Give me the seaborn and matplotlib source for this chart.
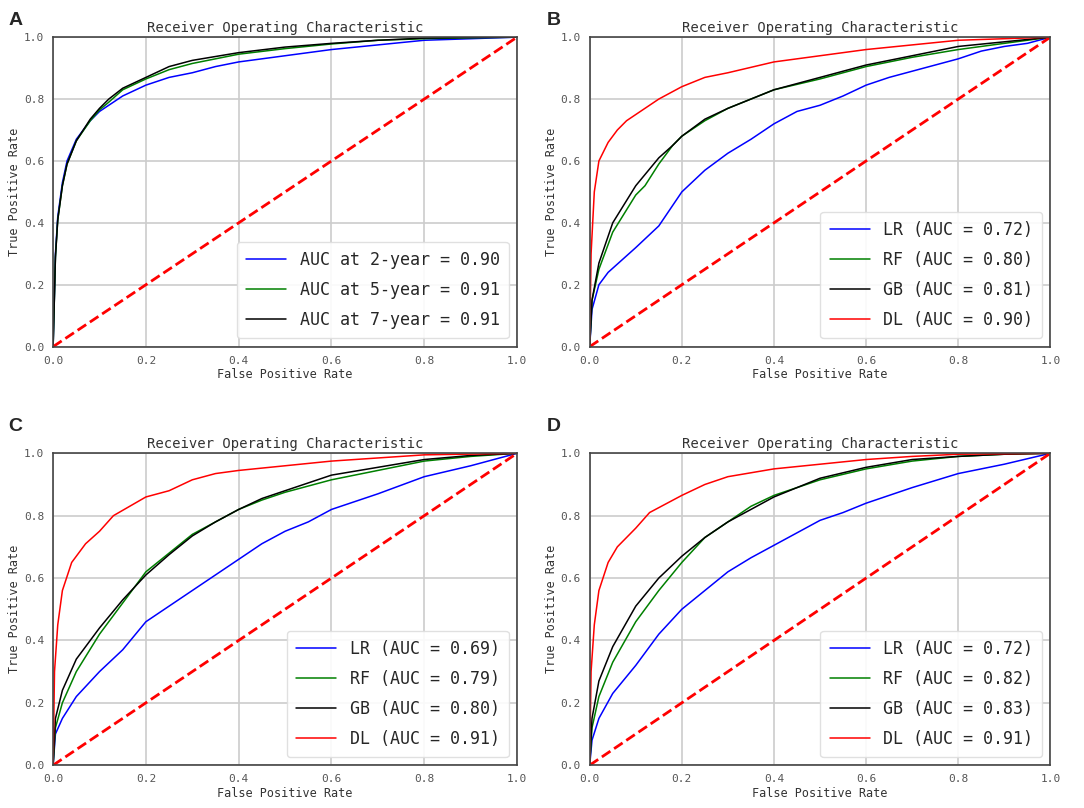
import numpy as np
import pandas as pd
import matplotlib
matplotlib.use("Agg")
import matplotlib.pyplot as plt
import seaborn as sns

sns.set_style("white")
plt.rcParams['font.family'] = ['DejaVu Sans Mono', 'DejaVu Sans']

# chance line (FPR == TPR)
chance = [0.0, 1.0]

# ---- panel A: AUC at different horizons ----
a_fpr_2y = [0, 0.005, 0.01, 0.02, 0.03, 0.05, 0.08, 0.1, 0.12, 0.15, 0.2, 0.25, 0.3, 0.35, 0.4, 0.5, 0.6, 0.7, 0.8, 0.9, 1.0]
a_tpr_2y = [0, 0.30, 0.42, 0.53, 0.60, 0.67, 0.73, 0.76, 0.78, 0.81, 0.845, 0.87, 0.885, 0.905, 0.92, 0.94, 0.96, 0.975, 0.99, 0.995, 1.0]
a_fpr_5y = [0, 0.005, 0.01, 0.02, 0.03, 0.05, 0.08, 0.1, 0.12, 0.15, 0.2, 0.25, 0.3, 0.4, 0.5, 0.6, 0.7, 0.8, 0.9, 1.0]
a_tpr_5y = [0, 0.29, 0.41, 0.52, 0.59, 0.665, 0.73, 0.765, 0.79, 0.83, 0.865, 0.895, 0.915, 0.945, 0.963, 0.978, 0.99, 0.995, 0.998, 1.0]
a_fpr_7y = [0, 0.005, 0.01, 0.02, 0.03, 0.05, 0.08, 0.1, 0.12, 0.15, 0.2, 0.25, 0.3, 0.4, 0.5, 0.6, 0.7, 0.8, 0.9, 1.0]
a_tpr_7y = [0, 0.29, 0.41, 0.52, 0.59, 0.665, 0.735, 0.77, 0.80, 0.835, 0.87, 0.905, 0.925, 0.95, 0.968, 0.98, 0.99, 0.997, 0.999, 1.0]
a_labels = ['AUC at 2-year = 0.90', 'AUC at 5-year = 0.91', 'AUC at 7-year = 0.91']

# ---- panel B ----
b_fpr_lr = [0, 0.005, 0.02, 0.04, 0.07, 0.1, 0.15, 0.2, 0.25, 0.3, 0.35, 0.4, 0.45, 0.5, 0.55, 0.6, 0.65, 0.7, 0.8, 0.85, 0.9, 0.95, 1.0]
b_tpr_lr = [0, 0.12, 0.20, 0.24, 0.28, 0.32, 0.39, 0.50, 0.57, 0.625, 0.67, 0.72, 0.76, 0.78, 0.81, 0.845, 0.87, 0.89, 0.93, 0.955, 0.97, 0.98, 1.0]
b_fpr_rf = [0, 0.005, 0.02, 0.05, 0.1, 0.12, 0.15, 0.18, 0.2, 0.25, 0.3, 0.4, 0.5, 0.6, 0.7, 0.8, 0.9, 1.0]
b_tpr_rf = [0, 0.15, 0.25, 0.37, 0.49, 0.52, 0.59, 0.65, 0.68, 0.73, 0.77, 0.83, 0.865, 0.905, 0.935, 0.96, 0.98, 1.0]
b_fpr_gb = [0, 0.005, 0.02, 0.05, 0.1, 0.15, 0.18, 0.2, 0.25, 0.3, 0.4, 0.5, 0.6, 0.7, 0.8, 0.9, 1.0]
b_tpr_gb = [0, 0.15, 0.27, 0.40, 0.52, 0.61, 0.65, 0.68, 0.735, 0.77, 0.83, 0.87, 0.91, 0.94, 0.97, 0.985, 1.0]
b_fpr_dl = [0, 0.003, 0.01, 0.02, 0.04, 0.06, 0.08, 0.1, 0.15, 0.2, 0.25, 0.3, 0.4, 0.5, 0.6, 0.7, 0.8, 0.9, 1.0]
b_tpr_dl = [0, 0.30, 0.50, 0.60, 0.66, 0.70, 0.73, 0.75, 0.80, 0.84, 0.87, 0.885, 0.92, 0.94, 0.96, 0.975, 0.99, 0.995, 1.0]
b_labels = ['LR (AUC = 0.72)', 'RF (AUC = 0.80)', 'GB (AUC = 0.81)', 'DL (AUC = 0.90)']

# ---- panel C ----
c_fpr_lr = [0, 0.005, 0.02, 0.05, 0.1, 0.15, 0.2, 0.25, 0.3, 0.35, 0.4, 0.45, 0.5, 0.55, 0.6, 0.7, 0.8, 0.9, 1.0]
c_tpr_lr = [0, 0.10, 0.15, 0.22, 0.30, 0.37, 0.46, 0.51, 0.56, 0.61, 0.66, 0.71, 0.75, 0.78, 0.82, 0.87, 0.925, 0.96, 1.0]
c_fpr_rf = [0, 0.005, 0.02, 0.05, 0.1, 0.15, 0.2, 0.25, 0.3, 0.35, 0.4, 0.45, 0.5, 0.6, 0.7, 0.8, 0.9, 1.0]
c_tpr_rf = [0, 0.12, 0.20, 0.30, 0.42, 0.52, 0.62, 0.68, 0.74, 0.78, 0.82, 0.85, 0.875, 0.915, 0.945, 0.975, 0.99, 1.0]
c_fpr_gb = [0, 0.005, 0.02, 0.05, 0.1, 0.15, 0.2, 0.25, 0.3, 0.35, 0.4, 0.45, 0.5, 0.6, 0.7, 0.8, 0.9, 1.0]
c_tpr_gb = [0, 0.15, 0.24, 0.34, 0.44, 0.53, 0.61, 0.675, 0.735, 0.78, 0.82, 0.855, 0.88, 0.93, 0.955, 0.98, 0.993, 1.0]
c_fpr_dl = [0, 0.003, 0.01, 0.02, 0.04, 0.07, 0.1, 0.13, 0.2, 0.25, 0.3, 0.35, 0.4, 0.5, 0.6, 0.7, 0.8, 1.0]
c_tpr_dl = [0, 0.30, 0.45, 0.56, 0.65, 0.71, 0.75, 0.80, 0.86, 0.88, 0.915, 0.935, 0.945, 0.96, 0.975, 0.985, 0.995, 1.0]
c_labels = ['LR (AUC = 0.69)', 'RF (AUC = 0.79)', 'GB (AUC = 0.80)', 'DL (AUC = 0.91)']

# ---- panel D ----
d_fpr_lr = [0, 0.005, 0.02, 0.05, 0.1, 0.15, 0.2, 0.25, 0.3, 0.35, 0.4, 0.45, 0.5, 0.55, 0.6, 0.7, 0.8, 0.9, 1.0]
d_tpr_lr = [0, 0.08, 0.15, 0.23, 0.32, 0.42, 0.50, 0.56, 0.62, 0.665, 0.705, 0.745, 0.785, 0.81, 0.84, 0.89, 0.935, 0.965, 1.0]
d_fpr_rf = [0, 0.005, 0.02, 0.05, 0.1, 0.15, 0.2, 0.25, 0.3, 0.35, 0.4, 0.5, 0.6, 0.7, 0.8, 0.9, 1.0]
d_tpr_rf = [0, 0.12, 0.22, 0.33, 0.46, 0.56, 0.65, 0.73, 0.78, 0.83, 0.865, 0.915, 0.95, 0.975, 0.99, 0.997, 1.0]
d_fpr_gb = [0, 0.005, 0.02, 0.05, 0.1, 0.15, 0.2, 0.25, 0.3, 0.4, 0.5, 0.6, 0.7, 0.8, 0.9, 1.0]
d_tpr_gb = [0, 0.15, 0.27, 0.38, 0.51, 0.60, 0.67, 0.73, 0.78, 0.86, 0.92, 0.955, 0.98, 0.99, 0.997, 1.0]
d_fpr_dl = [0, 0.003, 0.01, 0.02, 0.04, 0.06, 0.08, 0.1, 0.13, 0.2, 0.25, 0.3, 0.4, 0.5, 0.6, 0.7, 0.8, 1.0]
d_tpr_dl = [0, 0.30, 0.45, 0.56, 0.65, 0.70, 0.73, 0.76, 0.81, 0.865, 0.90, 0.925, 0.95, 0.965, 0.98, 0.99, 0.997, 1.0]
d_labels = ['LR (AUC = 0.72)', 'RF (AUC = 0.82)', 'GB (AUC = 0.83)', 'DL (AUC = 0.91)']

colors4 = ['blue', 'green', 'black', 'red']
colors3 = ['blue', 'green', 'black']


def to_frame(curves, labels):
    parts = []
    for (f, t), lab in zip(curves, labels):
        parts.append(pd.DataFrame({'fpr': f, 'tpr': t, 'model': lab}))
    return pd.concat(parts, ignore_index=True)


panels = [
    ('A', to_frame([(a_fpr_2y, a_tpr_2y), (a_fpr_5y, a_tpr_5y), (a_fpr_7y, a_tpr_7y)], a_labels), a_labels, colors3),
    ('B', to_frame([(b_fpr_lr, b_tpr_lr), (b_fpr_rf, b_tpr_rf), (b_fpr_gb, b_tpr_gb), (b_fpr_dl, b_tpr_dl)], b_labels), b_labels, colors4),
    ('C', to_frame([(c_fpr_lr, c_tpr_lr), (c_fpr_rf, c_tpr_rf), (c_fpr_gb, c_tpr_gb), (c_fpr_dl, c_tpr_dl)], c_labels), c_labels, colors4),
    ('D', to_frame([(d_fpr_lr, d_tpr_lr), (d_fpr_rf, d_tpr_rf), (d_fpr_gb, d_tpr_gb), (d_fpr_dl, d_tpr_dl)], d_labels), d_labels, colors4),
]

# axes boxes in figure fractions [left, bottom, width, height]
boxes = [
    [0.049, 0.571, 0.428, 0.383],
    [0.544, 0.571, 0.425, 0.383],
    [0.049, 0.053, 0.428, 0.386],
    [0.544, 0.053, 0.425, 0.386],
]
letter_pos = [(0.008, 0.985), (0.504, 0.985), (0.008, 0.483), (0.504, 0.483)]

fig = plt.figure(figsize=(10.84, 8.08), dpi=100)

for (letter, df, labels, cols), box, lp in zip(panels, boxes, letter_pos):
    ax = fig.add_axes(box)
    sns.lineplot(data=df, x='fpr', y='tpr', hue='model', hue_order=labels,
                 palette=cols, estimator=None, sort=False, linewidth=1.1, ax=ax)
    ax.plot(chance, chance, color='red', linestyle='--', linewidth=2)
    ax.set_xlim(0, 1)
    ax.set_ylim(0, 1)
    ax.set_xticks(np.arange(0, 1.01, 0.2))
    ax.set_yticks(np.arange(0, 1.01, 0.2))
    ax.tick_params(labelsize=8, colors='#555555', length=3)
    ax.grid(True, color='#cccccc', linewidth=1.2)
    for s in ax.spines.values():
        s.set_color('#444444')
        s.set_linewidth(1.2)
    ax.set_title('Receiver Operating Characteristic', fontsize=10, color='#333333', pad=4)
    ax.set_xlabel('False Positive Rate', fontsize=8.5, color='#333333', labelpad=2)
    ax.set_ylabel('True Positive Rate', fontsize=8.5, color='#333333', labelpad=2)
    handles, _ = ax.get_legend_handles_labels()
    ax.legend(handles[:len(labels)], labels, loc='lower right', fontsize=12,
              handlelength=2.4, labelspacing=0.72, borderpad=0.55,
              framealpha=0.9, edgecolor='#dddddd')
    fig.text(lp[0], lp[1], letter, fontsize=14, fontweight='bold',
             family='Liberation Sans', va='top', ha='left')

fig.savefig('out.png', dpi=100)
